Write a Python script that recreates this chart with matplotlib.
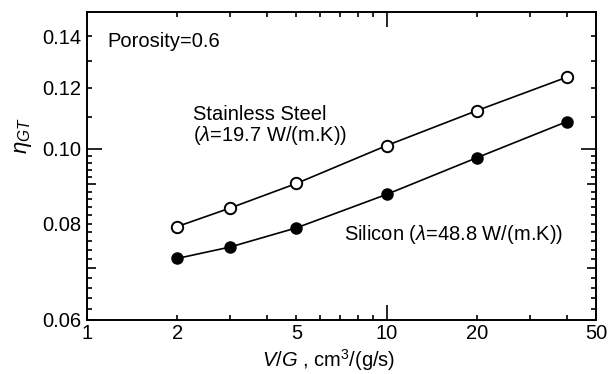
import matplotlib
matplotlib.use("Agg")
import matplotlib.pyplot as plt
from matplotlib.ticker import FixedLocator, FixedFormatter, NullFormatter

plt.rcParams['font.family'] = ['Liberation Sans', 'DejaVu Sans']
plt.rcParams['mathtext.fontset'] = 'custom'
plt.rcParams['mathtext.rm'] = 'Liberation Sans'
plt.rcParams['mathtext.it'] = 'Liberation Sans:italic'
plt.rcParams['font.size'] = 14.5

# V/G values, cm^3/(g/s)
vg = [2, 3, 5, 10, 20, 40]
# overall efficiency eta_GT
eta_steel = [0.0793, 0.0838, 0.0902, 0.1010, 0.1121, 0.1239]
eta_silicon = [0.0721, 0.0746, 0.0790, 0.0873, 0.0974, 0.1085]

x_major = [1, 2, 5, 10, 20, 50]
x_major_labels = ['1', '2', '5', '10', '20', '50']
x_minor = [3, 4, 6, 7, 8, 9, 30, 40]
y_major = [0.06, 0.08, 0.10, 0.12, 0.14]
y_major_labels = ['0.06', '0.08', '0.10', '0.12', '0.14']
y_minor = [0.062, 0.064, 0.066, 0.068, 0.07, 0.072, 0.074, 0.076, 0.078,
           0.082, 0.084, 0.086, 0.088, 0.09, 0.092, 0.094, 0.096, 0.098,
           0.11, 0.13]

fig = plt.figure(figsize=(6.08, 3.74), dpi=100)
ax = fig.add_axes([0.1431, 0.1444, 0.8372, 0.8235])

ax.plot(vg, eta_steel, '-o', color='black', lw=1.2, ms=8.2,
        markerfacecolor='white', markeredgewidth=1.4)
ax.plot(vg, eta_silicon, '-o', color='black', lw=1.2, ms=7.6,
        markerfacecolor='black', markeredgewidth=1.4)

ax.set_xscale('log')
ax.set_yscale('log')
ax.set_xlim(1, 50)
ax.set_ylim(0.06, 0.1505)

ax.xaxis.set_major_locator(FixedLocator(x_major))
ax.xaxis.set_major_formatter(FixedFormatter(x_major_labels))
ax.xaxis.set_minor_locator(FixedLocator(x_minor))
ax.xaxis.set_minor_formatter(NullFormatter())
ax.yaxis.set_major_locator(FixedLocator(y_major))
ax.yaxis.set_major_formatter(FixedFormatter(y_major_labels))
ax.yaxis.set_minor_locator(FixedLocator(y_minor))
ax.yaxis.set_minor_formatter(NullFormatter())

ax.tick_params(which='both', direction='in', top=True, right=True,
               width=1.2, labelsize=14.5)
ax.tick_params(which='major', length=3.6)
ax.tick_params(which='minor', length=3.6)
ax.tick_params(axis='x', which='major', pad=3)
ax.tick_params(axis='y', which='major', pad=4)

for sp in ax.spines.values():
    sp.set_linewidth(1.4)

# decade ticks drawn longer, half-decade ticks medium
for t, v in zip(ax.xaxis.get_major_ticks(), x_major):
    if v == 10:
        t.tick1line.set_markersize(10.5)
        t.tick2line.set_markersize(10.5)
for t, v in zip(ax.yaxis.get_major_ticks(), y_major):
    if v == 0.10:
        t.tick1line.set_markersize(10.5)
        t.tick2line.set_markersize(10.5)
for t, v in zip(ax.yaxis.get_minor_ticks(), y_minor):
    if v in (0.07, 0.09):
        t.tick1line.set_markersize(6.5)
        t.tick2line.set_markersize(6.5)

ax.set_xlabel(r'$V/G$ , cm$^3$/(g/s)', fontsize=14.5)
ax.xaxis.set_label_coords(0.475, -0.089)
ax.set_ylabel(r'$\eta_{GT}$', fontsize=16)
ax.yaxis.set_label_coords(-0.125, 0.60)
ax.yaxis.label.set_va('center')

ax.text(0.041, 0.903, 'Porosity=0.6', transform=ax.transAxes,
        va='center', ha='left')
ax.text(0.2077, 0.666, 'Stainless Steel', transform=ax.transAxes,
        va='center', ha='left')
ax.text(0.2077, 0.598, r'($\lambda$=19.7 W/(m.K))', transform=ax.transAxes,
        va='center', ha='left')
ax.text(0.935, 0.276, r'Silicon ($\lambda$=48.8 W/(m.K))',
        transform=ax.transAxes, va='center', ha='right')

fig.savefig('out.png', dpi=100)
